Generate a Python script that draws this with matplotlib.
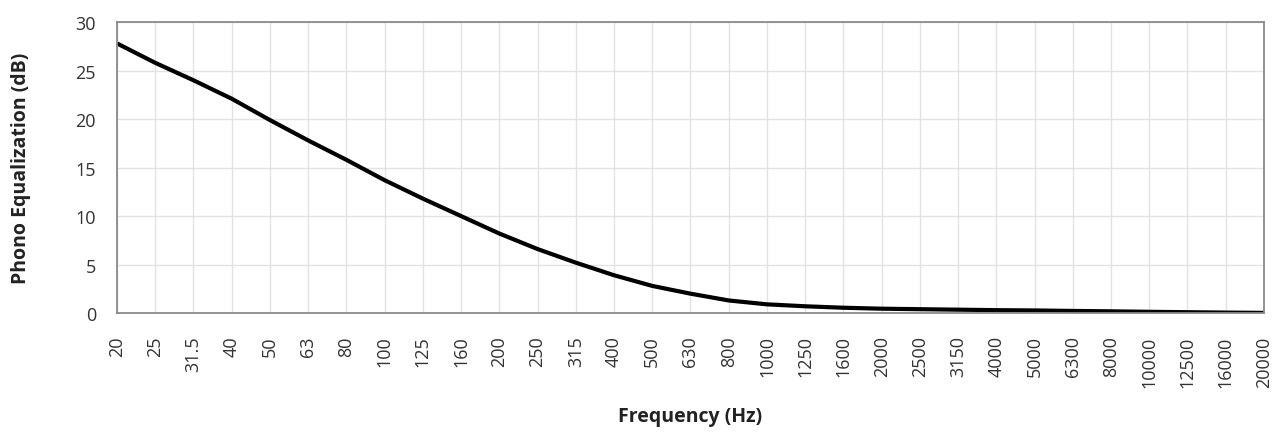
import matplotlib.pyplot as plt

freq_labels = ["20", "25", "31.5", "40", "50", "63", "80", "100", "125", "160",
               "200", "250", "315", "400", "500", "630", "800", "1000", "1250",
               "1600", "2000", "2500", "3150", "4000", "5000", "6300", "8000",
               "10000", "12500", "16000", "20000"]
eq_db = [27.8, 25.8, 24.0, 22.1, 19.9, 17.8, 15.8, 13.7, 11.8, 10.0,
         8.2, 6.6, 5.2, 3.9, 2.8, 2.0, 1.3, 0.9, 0.7, 0.55,
         0.45, 0.4, 0.35, 0.3, 0.27, 0.22, 0.18, 0.13, 0.09, 0.05, 0.02]
y_ticks = [0, 5, 10, 15, 20, 25, 30]

plt.rcParams["font.family"] = ["Open Sans", "DejaVu Sans"]

fig = plt.figure(figsize=(12.81, 4.35), dpi=100)
ax = fig.add_axes([0.0913, 0.278, 0.8954, 0.669])

x = list(range(len(freq_labels)))
ax.plot(x, eq_db, color="black", linewidth=3, solid_capstyle="butt")

ax.set_xlim(0, len(freq_labels) - 1)
ax.set_ylim(0, 30)
ax.set_xticks(x)
ax.set_xticklabels(freq_labels, rotation=90, va="top", ha="center")
ax.set_yticks(y_ticks)

ax.grid(True, color="#e2e2e2", linewidth=1)
ax.set_axisbelow(True)
for spine in ax.spines.values():
    spine.set_color("#8a8a8a")
    spine.set_linewidth(1.3)

ax.tick_params(axis="both", length=0, labelsize=13, labelcolor="#333333")
ax.tick_params(axis="x", pad=16)
ax.tick_params(axis="y", pad=15)

ax.set_ylabel("Phono Equalization (dB)", fontsize=14, fontweight="bold", color="#222222")
ax.set_xlabel("Frequency (Hz)", fontsize=14, fontweight="bold", color="#222222")
ax.yaxis.set_label_coords(-0.0838, 0.5)
ax.yaxis.label.set_va("center")
ax.xaxis.set_label_coords(0.5, -0.354)
ax.xaxis.label.set_va("center")

fig.savefig("out.png", dpi=100)
